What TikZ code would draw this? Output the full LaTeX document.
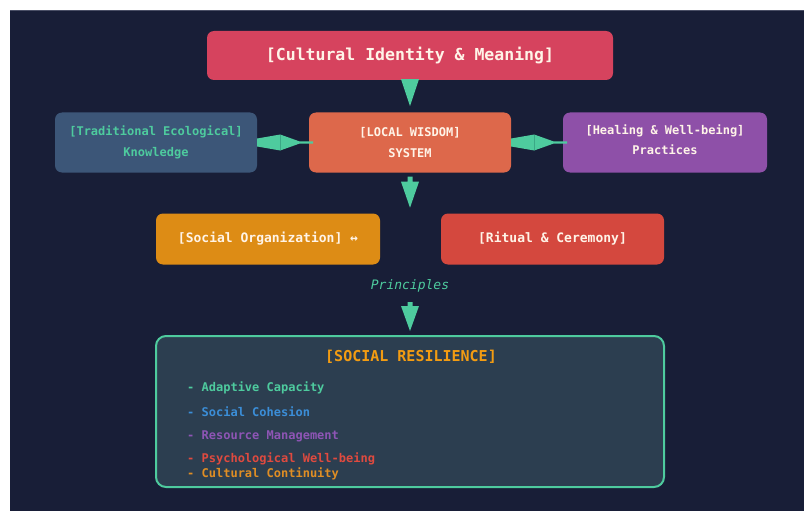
\documentclass[tikz,border=0pt]{standalone}
\usepackage{fontspec}
\setmonofont{DejaVu Sans Mono}
\usetikzlibrary{calc}

\definecolor{bg}{HTML}{181E37}
\definecolor{edgeline}{HTML}{4A4F66}
\definecolor{teal}{HTML}{4ECB9E}
\definecolor{tealdark}{HTML}{3BA886}
\definecolor{ivory}{HTML}{FFF4E8}
\definecolor{crimson}{HTML}{D6435E}
\definecolor{slate}{HTML}{3C5678}
\definecolor{coral}{HTML}{DD684B}
\definecolor{violet}{HTML}{8E50A8}
\definecolor{amber}{HTML}{DD8C15}
\definecolor{brick}{HTML}{D4483E}
\definecolor{panel}{HTML}{2C3E50}
\definecolor{gold}{HTML}{F39C12}
\definecolor{skyblue}{HTML}{3B8ED8}
\definecolor{plum}{HTML}{8E55B5}
\definecolor{scarlet}{HTML}{E04A3F}
\definecolor{tangerine}{HTML}{E08E24}

\tikzset{
  card/.style={fill=#1, rounded corners=7pt, inner sep=0pt, align=center,
    text=ivory, font=\ttfamily\fontsize{12}{20.5}\selectfont\bfseries},
  flow/.style={fill=teal, draw=none},
  item/.style={anchor=west, inner sep=0pt, font=\ttfamily\fontsize{12}{14}\selectfont\bfseries}
}

\begin{document}
\begin{tikzpicture}[x=1pt,y=-1pt]
  % canvas
  \useasboundingbox (0,0) rectangle (804,511);
  \fill[white] (0,0) rectangle (804,511);
  \fill[bg] (10,10) rectangle (804,511);
  \draw[edgeline, line width=1pt] (10,10.5) -- (804,10.5);

  % boxes
  \node[card=crimson, minimum width=406pt, minimum height=49pt,
        font=\ttfamily\fontsize{16.5}{19}\selectfont\bfseries] (identity) at (410,55.5)
        {[Cultural Identity \& Meaning]};
  \node[card=slate, minimum width=202pt, minimum height=60pt, text=teal] (tek) at (156,142.5)
        {[Traditional Ecological]\\Knowledge};
  \node[card=coral, minimum width=202pt, minimum height=60pt] (wisdom) at (410,142.5)
        {[LOCAL WISDOM]\\SYSTEM};
  \node[card=violet, minimum width=204pt, minimum height=60pt] (healing) at (665,142.5) {};
  \node[card=none, fill=none] (healtext) at ($(healing.center)+(0,-3)$)
        {[Healing \& Well-being]\\Practices};
  \node[card=amber, minimum width=224pt, minimum height=51pt,
        font=\ttfamily\fontsize{13}{15}\selectfont\bfseries] (socorg) at (268,239)
        {[Social Organization] ↔};
  \node[card=brick, minimum width=223pt, minimum height=51pt,
        font=\ttfamily\fontsize{13}{15}\selectfont\bfseries] (ritual) at (552.5,239)
        {[Ritual \& Ceremony]};
  \node[text=teal, inner sep=0pt, font=\ttfamily\fontsize{13}{15}\selectfont\itshape]
        (principles) at (410,286) {Principles};
  \node[draw=teal, line width=2pt, fill=panel, rounded corners=10pt,
        minimum width=508pt, minimum height=151pt, inner sep=0pt] (resil) at (410,411.5) {};

  % contents of the resilience panel
  \node[text=gold, inner sep=0pt, font=\ttfamily\fontsize{15}{17}\selectfont\bfseries]
        (restitle) at (411,357) {[SOCIAL RESILIENCE]};
  \node[item, text=teal]      (i1) at (187,388) {- Adaptive Capacity};
  \node[item, text=skyblue]   (i2) at (187,412) {- Social Cohesion};
  \node[item, text=plum]      (i3) at (187,436) {- Resource Management};
  \node[item, text=scarlet]   (i4) at (187,459) {- Psychological Well-being};
  \node[item, text=tangerine] (i5) at (187,474) {- Cultural Continuity};

  % downward connectors
  \fill[flow] ($(identity.south)+(-9,-1)$) -- ($(identity.south)+(9,-1)$)
              -- ($(identity.south)+(0,26)$) -- cycle;
  \fill[flow] ($(wisdom.south)+(-2.5,4)$) -- ($(wisdom.south)+(2.5,4)$)
              -- ($(wisdom.south)+(2.5,9)$) -- ($(wisdom.south)+(9,9)$)
              -- ($(wisdom.south)+(0,35)$) -- ($(wisdom.south)+(-9,9)$)
              -- ($(wisdom.south)+(-2.5,9)$) -- cycle;
  \fill[flow] ($(resil.north)+(-2.5,-33)$) -- ($(resil.north)+(2.5,-33)$)
              -- ($(resil.north)+(2.5,-29)$) -- ($(resil.north)+(9,-29)$)
              -- ($(resil.north)+(0,-4)$) -- ($(resil.north)+(-9,-29)$)
              -- ($(resil.north)+(-2.5,-29)$) -- cycle;

  % two-way links beside the local wisdom box
  \foreach \src in {tek, wisdom} {
    \fill[flow] ($(\src.east)+(0,-4)$) -- ($(\src.east)+(23,-8)$)
                -- ($(\src.east)+(42,-1.2)$) -- ($(\src.east)+(56,-1.2)$)
                -- ($(\src.east)+(56,1.2)$) -- ($(\src.east)+(42,1.2)$)
                -- ($(\src.east)+(23,8)$) -- ($(\src.east)+(0,4)$) -- cycle;
    \draw[tealdark, line width=0.6pt] ($(\src.east)+(23,-7.5)$) -- ($(\src.east)+(23,7.5)$);
  }
\end{tikzpicture}
\end{document}
